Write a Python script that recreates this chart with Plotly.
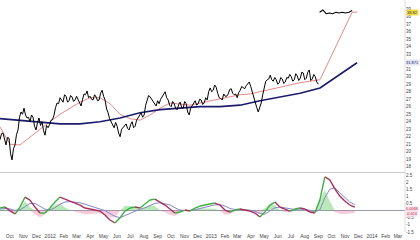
import pandas as pd
import plotly.graph_objects as go

# ---------------- data ----------------
price_start, price_end = "2011-09-09", "2013-09-01"
price = [21.6, 22.4, 22.5, 21.5, 20.9, 21.9, 21.8, 19.8, 18.9, 20.4,
         20.9, 22.3, 22.9, 24.6, 25.3, 25.0, 25.8, 24.9, 24.5, 24.6,
         24.0, 24.9, 24.6, 23.4, 22.9, 23.9, 24.5, 23.5, 24.0, 22.8,
         22.2, 23.5, 23.2, 23.6, 24.2, 24.3, 24.9, 25.9, 26.5, 26.4,
         27.2, 26.9, 26.6, 27.6, 27.4, 26.6, 26.8, 27.5, 27.3, 26.7,
         26.9, 27.4, 27.0, 26.4, 26.1, 27.0, 27.7, 27.6, 28.1, 27.2,
         27.4, 27.0, 26.9, 27.6, 27.3, 26.8, 26.9, 27.8, 28.2, 27.4,
         26.9, 25.7, 25.2, 24.4, 24.0, 23.4, 23.2, 23.9, 23.4, 22.5,
         22.0, 23.0, 23.2, 23.4, 23.7, 23.1, 22.9, 23.6, 24.0, 23.2,
         23.4, 24.2, 24.5, 24.8, 25.2, 24.6, 24.9, 26.2, 26.9, 27.5,
         27.3, 27.0, 26.8, 26.5, 26.1, 26.8, 26.4, 27.0, 27.4, 27.6,
         28.0, 27.2, 26.9, 26.2, 26.0, 26.7, 26.4, 25.8, 25.6, 26.3,
         26.6, 25.9, 25.8, 26.7, 26.4, 25.3, 24.9, 25.8, 26.2, 26.5,
         26.8, 26.2, 26.4, 27.0, 26.9, 26.3, 26.5, 27.2, 26.9, 28.0,
         28.5, 28.0, 28.2, 28.9, 28.6, 27.8, 27.2, 27.1, 26.9, 27.7,
         27.4, 27.4, 27.7, 28.3, 28.4, 27.8, 27.6, 27.7, 27.2, 27.9,
         28.2, 28.7, 28.5, 28.4, 28.8, 29.0, 29.3, 28.7, 28.0, 27.0,
         26.4, 25.9, 25.3, 25.9, 26.5, 27.6, 28.5, 29.4, 29.6, 29.7,
         30.2, 29.6, 29.4, 29.9, 29.6, 29.0, 29.2, 29.9, 29.7, 29.1,
         29.3, 29.9, 29.8, 30.3, 30.0, 29.4, 29.6, 30.4, 30.1, 29.5,
         29.8, 30.6, 30.5, 29.6, 29.8, 30.6, 30.9, 29.5, 29.7, 30.3,
         30.0, 29.3, 29.0]

top_start, top_end = "2013-09-04", "2013-11-17"
top_price = [38.6, 38.9, 38.4, 38.5, 38.4, 38.6, 38.5, 38.6, 38.5, 38.6, 38.82]

red_start, red_end = "2011-09-09", "2013-09-05"
red_ma = [23.3, 21.0, 20.9, 22.0, 23.0, 24.0, 25.0, 25.8, 26.6, 27.2,
          27.2, 26.4, 25.0, 24.4, 24.2, 24.9, 25.8, 26.5, 26.4, 26.2,
          26.5, 26.8, 27.0, 27.3, 27.6, 27.7, 28.0, 28.4, 28.6, 28.9,
          29.2, 29.4, 29.6]
red_tail_dates = ["2013-11-17", "2013-11-28"]
red_tail = [38.6, 38.6]

blue_start, blue_end = "2011-09-09", "2013-09-05"
blue_ma = [24.4, 24.2, 24.0, 23.7, 23.7, 24.0, 24.5, 25.2, 25.6, 25.8,
           26.0, 26.0, 26.2, 26.8, 27.3, 27.8, 28.5]
blue_tail_dates = ["2013-11-28"]
blue_tail = [31.87]

osc_start, osc_end = "2011-09-09", "2013-11-23"
macd = [0.18, 0.25, 0, -0.24, 0.25, 0.95, 0.74, 0.25, -0.17, -0.17,
        0.18, 0.6, 0.95, 0.81, 0.67, 0.53, 0.39, 0.18, 0.11, 0.04,
        -0.03, -0.31, -0.66, -0.87, -0.52, -0.03, 0.18, 0.25, 0.18, 0.46,
        0.74, 0.81, 0.6, 0.39, 0.11, -0.17, -0.1, 0.04, -0.03, 0.18,
        0.32, 0.39, 0.46, 0.53, 0.39, 0.04, -0.1, 0.04, 0.11, 0.04,
        -0.03, -0.17, -0.45, -0.1, 0.39, 0.6, 0.25, 0.11, -0.03, 0.11,
        0.18, 0.11, -0.1, -0.17, 0.74, 2.36, 2.15, 1.52, 1.02, 0.67,
        0.39, 0.25]
signal = [0.1, 0.15, 0.12, 0.02, 0.05, 0.3, 0.5, 0.5, 0.3, 0.1,
          0.05, 0.2, 0.45, 0.6, 0.63, 0.6, 0.55, 0.45, 0.35, 0.25,
          0.15, 0.0, -0.2, -0.4, -0.5, -0.35, -0.15, 0.0, 0.1, 0.2,
          0.35, 0.5, 0.55, 0.5, 0.4, 0.2, 0.05, 0.0, 0.0, 0.05,
          0.15, 0.25, 0.32, 0.4, 0.42, 0.32, 0.15, 0.08, 0.08, 0.07,
          0.03, -0.05, -0.2, -0.25, -0.05, 0.2, 0.25, 0.2, 0.1, 0.08,
          0.1, 0.1, 0.02, -0.08, 0.05, 0.9, 1.5, 1.6, 1.25, 0.9,
          0.6, 0.42]

month_ticks = pd.date_range("2011-10-01", "2014-03-01", freq="MS")
month_labels = [str(d.year) if d.month == 1 else d.strftime("%b") for d in month_ticks]
price_ticks = [18, 19, 20, 21, 22, 23, 24, 25, 26, 27, 28, 29, 30, 31, 33, 34, 35, 36, 37, 38, 39, 40]
osc_ticks = [-1.5, -1, -0.5, 0.5, 1, 1.5, 2, 2.5]
osc_labels = ["-1.5", "-1", "-0.5", "0.5", "1", "1.5", "2", "2.5"]

# ---------------- build ----------------
px_dates = pd.date_range(price_start, price_end, periods=len(price))
top_dates = pd.date_range(top_start, top_end, periods=len(top_price))
red_dates = list(pd.date_range(red_start, red_end, periods=len(red_ma))) + list(pd.to_datetime(red_tail_dates))
blue_dates = list(pd.date_range(blue_start, blue_end, periods=len(blue_ma))) + list(pd.to_datetime(blue_tail_dates))
osc_dates = pd.date_range(osc_start, osc_end, periods=len(macd))

fig = go.Figure()

# price panel
fig.add_trace(go.Scatter(x=red_dates, y=red_ma + red_tail, mode="lines",
                         line=dict(color="#e38a8a", width=1), yaxis="y", xaxis="x"))
fig.add_trace(go.Scatter(x=blue_dates, y=blue_ma + blue_tail, mode="lines",
                         line=dict(color="#1c1c6e", width=1.7), yaxis="y", xaxis="x"))
fig.add_trace(go.Scatter(x=px_dates, y=price, mode="lines",
                         line=dict(color="#000000", width=1.0), yaxis="y", xaxis="x"))
fig.add_trace(go.Scatter(x=top_dates, y=top_price, mode="lines",
                         line=dict(color="#000000", width=1.1), yaxis="y", xaxis="x"))

# oscillator panel
hist = [m - s for m, s in zip(macd, signal)]
pos = [h if h > 0 else 0 for h in hist]
neg = [h if h < 0 else 0 for h in hist]
fig.add_trace(go.Scatter(x=osc_dates, y=pos, mode="lines", line=dict(width=0),
                         fill="tozeroy", fillcolor="rgba(80,200,80,0.40)", yaxis="y2", xaxis="x"))
fig.add_trace(go.Scatter(x=osc_dates, y=neg, mode="lines", line=dict(width=0),
                         fill="tozeroy", fillcolor="rgba(225,110,150,0.35)", yaxis="y2", xaxis="x"))
fig.add_trace(go.Scatter(x=osc_dates, y=signal, mode="lines",
                         line=dict(color="#8a86c8", width=1), yaxis="y2", xaxis="x"))
ux, uy, dx_, dy_ = [], [], [], []
for i in range(1, len(macd)):
    seg_x = [osc_dates[i - 1], osc_dates[i], None]
    seg_y = [macd[i - 1], macd[i], None]
    if macd[i] >= macd[i - 1]:
        ux += seg_x; uy += seg_y
    else:
        dx_ += seg_x; dy_ += seg_y
fig.add_trace(go.Scatter(x=dx_, y=dy_, mode="lines", line=dict(color="#a8305c", width=1.4),
                         yaxis="y2", xaxis="x", connectgaps=False))
fig.add_trace(go.Scatter(x=ux, y=uy, mode="lines", line=dict(color="#3cb043", width=1.4),
                         yaxis="y2", xaxis="x", connectgaps=False))

H_PLOT = 232.0
sep = (H_PLOT - 172.5) / H_PLOT
fig.update_layout(
    width=420, height=240,
    margin=dict(l=0, r=15, t=0, b=8),
    paper_bgcolor="white", plot_bgcolor="white",
    showlegend=False,
    font=dict(family="Liberation Sans, Arial, sans-serif", size=5, color="#444"),
    xaxis=dict(type="date", range=["2011-09-09", "2014-03-17"], anchor="y2",
               tickvals=list(month_ticks), ticktext=month_labels,
               tickfont=dict(size=5, color="#444"), showgrid=False, zeroline=False,
               ticks="", showline=False, tickangle=0),
    yaxis=dict(domain=[sep + 0.002, 1], range=[17.29, 40.23], side="right",
               tickvals=price_ticks, ticktext=[str(v) for v in price_ticks],
               tickfont=dict(size=4.5, color="#444"), showgrid=False, zeroline=False,
               ticks="", anchor="x"),
    yaxis2=dict(domain=[0, sep - 0.002], range=[-1.5, 2.64], side="right",
                tickvals=osc_ticks, ticktext=osc_labels,
                tickfont=dict(size=4.5, color="#444"), showgrid=False,
                zeroline=True, zerolinecolor="#9a9ab0", zerolinewidth=1,
                ticks="", anchor="x"),
    shapes=[
        dict(type="line", xref="paper", yref="paper", x0=0, x1=1, y0=sep, y1=sep,
             line=dict(color="#c8c8c8", width=1)),
        dict(type="line", xref="paper", yref="paper", x0=1, x1=1, y0=0, y1=1,
             line=dict(color="#dddddd", width=1)),
    ],
    annotations=[
        dict(x=1, xref="paper", y=38.6, yref="y", text="38.82", showarrow=False,
             xanchor="left", xshift=1, bgcolor="#f2dc4a", font=dict(size=4, color="#333"),
             borderpad=0),
        dict(x=1, xref="paper", y=31.95, yref="y", text="31.871", showarrow=False,
             xanchor="left", xshift=0, bgcolor="#e4e4f4", font=dict(size=4, color="#1c1c6e"),
             borderpad=0),
        dict(x=1, xref="paper", y=0.12, yref="y2", text="0.0068", showarrow=False,
             xanchor="left", xshift=0, bgcolor="#f8dfe6", font=dict(size=3.8, color="#c03060"),
             borderpad=0),
        dict(x=1, xref="paper", y=-0.22, yref="y2", text="-0.024", showarrow=False,
             xanchor="left", xshift=0, bgcolor="#f8dfe6", font=dict(size=3.8, color="#c03060"),
             borderpad=0),
    ],
)

fig.write_html("out.html")
